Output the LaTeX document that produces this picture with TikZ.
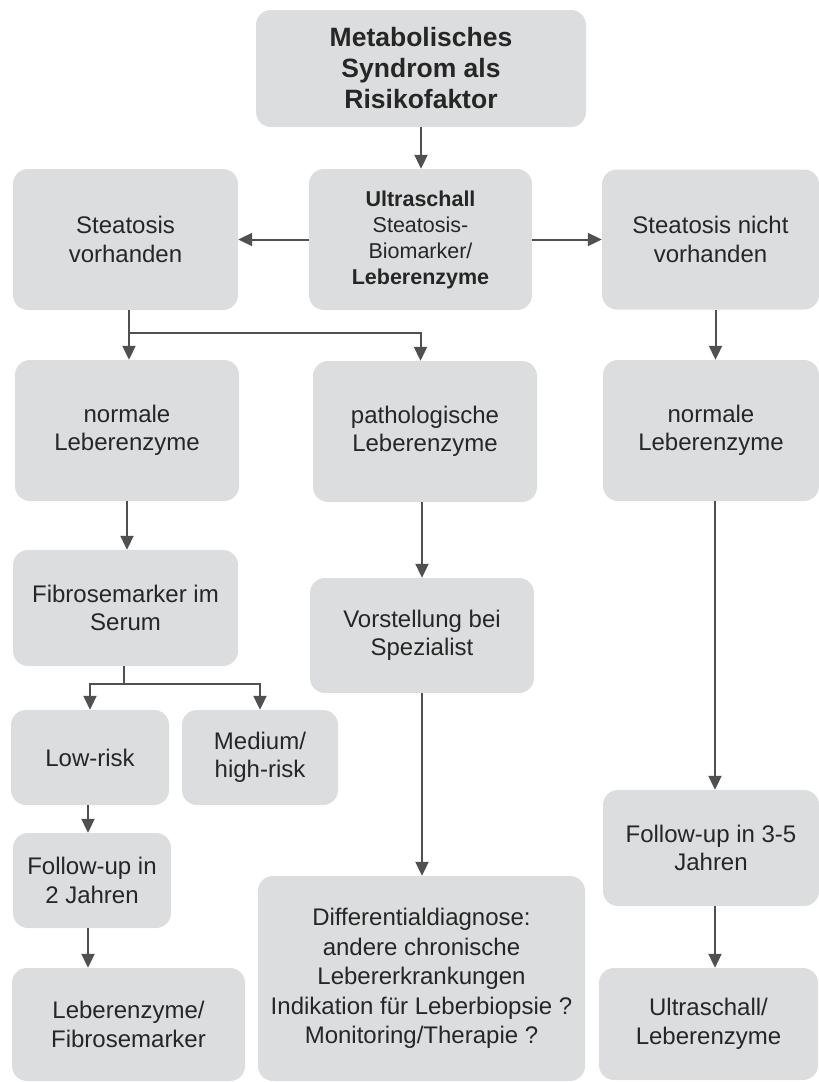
\documentclass[tikz,border=0pt]{standalone}
\usepackage{fontspec}
\setmainfont{Liberation Sans}
\usetikzlibrary{arrows.meta}
\definecolor{boxgray}{RGB}{220,221,222}
\definecolor{linegray}{RGB}{80,80,80}
\definecolor{textgray}{RGB}{38,38,38}

\begin{document}
\begin{tikzpicture}[x=1pt, y=-1pt,
    box/.style={fill=boxgray, rounded corners=15pt, align=center, inner sep=0pt,
      text=textgray, font=\fontsize{24}{28.5}\selectfont},
    arr/.style={draw=linegray, line width=2pt, -{Triangle[length=14pt,width=13pt]}},
    ln/.style={draw=linegray, line width=2pt}]

    \useasboundingbox (0,0) rectangle (819,1082);

    \node[box, minimum width=330pt, minimum height=117pt, font=\bfseries\fontsize{26.5}{31}\selectfont] (a) at (421,68.5) {Metabolisches\\Syndrom als\\Risikofaktor};
    \node[box, minimum width=223pt, minimum height=141pt, font=\fontsize{21.5}{26}\selectfont] (b) at (420.5,239.5) {\textbf{Ultraschall}\\Steatosis-\\Biomarker/\\\textbf{Leberenzyme}};
    \node[box, minimum width=225pt, minimum height=141pt] (c) at (125.5,239.5) {Steatosis\\vorhanden};
    \node[box, minimum width=217pt, minimum height=140pt] (d) at (710.5,239.5) {Steatosis nicht\\vorhanden};
    \node[box, minimum width=224pt, minimum height=141pt] (e) at (127,430.5) {normale\\Leberenzyme};
    \node[box, minimum width=224pt, minimum height=141pt] (f) at (425,431.5) {pathologische\\Leberenzyme};
    \node[box, minimum width=216pt, minimum height=141pt] (g) at (711,430.5) {normale\\Leberenzyme};
    \node[box, minimum width=225pt, minimum height=116pt] (h) at (125.5,608) {Fibrosemarker im\\Serum};
    \node[box, minimum width=224pt, minimum height=115pt] (i) at (422,635.5) {Vorstellung bei\\Spezialist};
    \node[box, minimum width=158pt, minimum height=95pt] (j) at (90,757.5) {Low-risk};
    \node[box, minimum width=156pt, minimum height=95pt] (k) at (260,757.5) {Medium/\\high-risk};
    \node[box, minimum width=158pt, minimum height=95pt] (l) at (92,880.5) {Follow-up in\\2 Jahren};
    \node[box, minimum width=233pt, minimum height=113pt] (m) at (128.5,1024.5) {Leberenzyme/\\Fibrosemarker};
    \node[box, minimum width=327pt, minimum height=205pt, font=\fontsize{24}{29.5}\selectfont] (n) at (421.5,978.5) {Differentialdiagnose:\\andere chronische\\Lebererkrankungen\\Indikation für Leberbiopsie ?\\Monitoring/Therapie ?};
    \node[box, minimum width=216pt, minimum height=116pt] (o) at (711,848) {Follow-up in 3-5\\Jahren};
    \node[box, minimum width=219pt, minimum height=112pt] (p) at (708.5,1024) {Ultraschall/\\Leberenzyme};

    \coordinate (s1) at (129,333);
    \coordinate (s2) at (124,684);

    \draw[arr] (a.south) -- (a.south |- b.north);
    \draw[arr] (b) to (c);
    \draw[arr] (b) to (d);
    \draw[ln] (c.south -| s1) -- (s1);
    \draw[arr] (s1) -- (e.north -| s1);
    \draw[arr] (s1) -| (f.north -| b);
    \draw[arr] ([xshift=5pt]d.south) -- ([xshift=5pt]d.south |- g.north);
    \draw[arr] (e.south) -- (e.south |- h.north);
    \draw[ln] (h.south -| s2) -- (s2);
    \draw[arr] (s2) -| (j.north);
    \draw[arr] (s2) -| (k.north);
    \draw[arr] (f.south -| i) -- (i.north);
    \draw[arr] (i.south) -- (i.south |- n.north);
    \draw[arr] ([xshift=4pt]g.south) -- ([xshift=4pt]g.south |- o.north);
    \draw[arr] ([xshift=4pt]o.south) -- ([xshift=4pt]o.south |- p.north);
    \draw[arr] ([xshift=-2pt]j.south) -- ([xshift=-2pt]j.south |- l.north);
    \draw[arr] ([xshift=-4pt]l.south) -- ([xshift=-4pt]l.south |- m.north);

\end{tikzpicture}
\end{document}
